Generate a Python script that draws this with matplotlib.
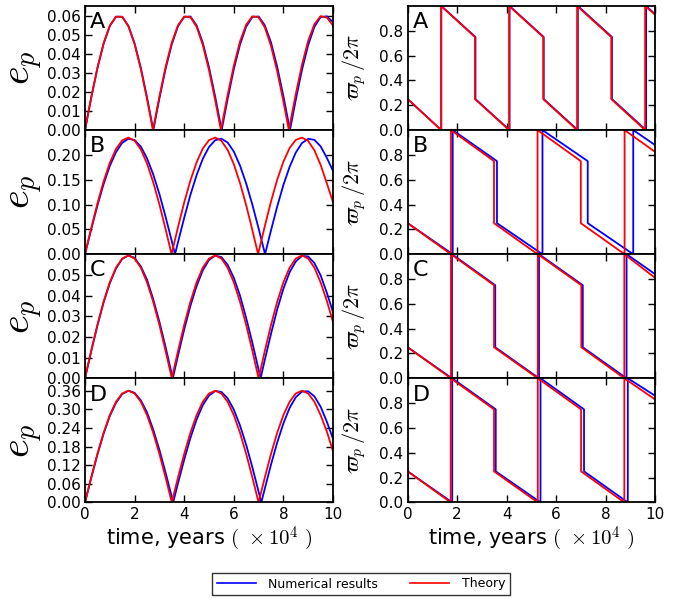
import numpy as np
import matplotlib
matplotlib.use("Agg")
import matplotlib.pyplot as plt
from matplotlib.lines import Line2D

plt.rcParams['mathtext.fontset'] = 'cm'
plt.rcParams['font.family'] = ['DejaVu Sans']

# sample times (x 10^4 years) for the eccentricity curves
t_grid = [i * 0.25 for i in range(41)]

# ---- eccentricity e_p, values read at t_grid; zeros listed separately ----
ep_A_num = [0, 0.0169, 0.0324, 0.0452, 0.0545, 0.0594, 0.0594, 0.0546, 0.0454, 0.0327, 0.0172,
            0.0003, 0.0166, 0.0321, 0.0450, 0.0544, 0.0593, 0.0595, 0.0548, 0.0457, 0.0329, 0.0175,
            0.0007, 0.0162, 0.0319, 0.0448, 0.0542, 0.0593, 0.0595, 0.0549, 0.0459, 0.0331, 0.0178,
            0.0010, 0.0159, 0.0316, 0.0446, 0.0541, 0.0592, 0.0596, 0.0565]
ep_A_num_zeros = [2.755, 5.51, 8.265]
ep_A_th = [0, 0.0170, 0.0325, 0.0455, 0.0547, 0.0594, 0.0593, 0.0544, 0.0450, 0.0320, 0.0163,
           0.0007, 0.0176, 0.0331, 0.0459, 0.0549, 0.0595, 0.0592, 0.0541, 0.0446, 0.0314, 0.0156,
           0.0014, 0.0183, 0.0337, 0.0464, 0.0552, 0.0596, 0.0591, 0.0538, 0.0441, 0.0308, 0.0150,
           0.0021, 0.0189, 0.0343, 0.0468, 0.0555, 0.0597, 0.0590, 0.0548]
ep_A_th_zeros = [2.74, 5.48, 8.22]

ep_B_num = [0, 0.0500, 0.0978, 0.1411, 0.1778, 0.2056, 0.2243, 0.2326, 0.2300, 0.2168, 0.1933, 0.1608, 0.1212, 0.0753,
            0.0261, 0.0242, 0.0733, 0.1195, 0.1593, 0.1922, 0.2159, 0.2297, 0.2327, 0.2251, 0.2068, 0.1786, 0.1423, 0.0995,
            0.0520, 0.0020, 0.0480, 0.0960, 0.1395, 0.1758, 0.2048, 0.2239, 0.2325, 0.2303, 0.2173, 0.1943, 0.1680]
ep_B_num_zeros = [3.63, 7.26]
ep_B_th = [0, 0.0524, 0.1021, 0.1466, 0.1839, 0.2120, 0.2293, 0.2350, 0.2287, 0.2111, 0.1827, 0.1451, 0.1003, 0.0504,
           0.0021, 0.0545, 0.1042, 0.1484, 0.1851, 0.2129, 0.2297, 0.2350, 0.2284, 0.2102, 0.1814, 0.1434, 0.0985, 0.0483,
           0.0042, 0.0565, 0.1061, 0.1501, 0.1863, 0.2138, 0.2302, 0.2349, 0.2280, 0.2093, 0.1800, 0.1430, 0.1050]
ep_B_th_zeros = [3.49, 6.98]

ep_C_num = [0, 0.0131, 0.0255, 0.0367, 0.0460, 0.0531, 0.0577, 0.0594, 0.0582, 0.0541, 0.0477, 0.0383, 0.0273, 0.0151,
            0.0021, 0.0110, 0.0236, 0.0350, 0.0446, 0.0522, 0.0572, 0.0593, 0.0586, 0.0549, 0.0486, 0.0400, 0.0291, 0.0171,
            0.0042, 0.0089, 0.0215, 0.0333, 0.0433, 0.0513, 0.0565, 0.0592, 0.0589, 0.0557, 0.0498, 0.0414, 0.0320]
ep_C_num_zeros = [3.54, 7.08]
ep_C_th = [0, 0.0132, 0.0258, 0.0370, 0.0464, 0.0535, 0.0579, 0.0594, 0.0579, 0.0535, 0.0464, 0.0370, 0.0258, 0.0132,
           0, 0.0132, 0.0258, 0.0370, 0.0464, 0.0535, 0.0579, 0.0594, 0.0579, 0.0535, 0.0464, 0.0370, 0.0258, 0.0132,
           0, 0.0132, 0.0258, 0.0370, 0.0464, 0.0535, 0.0579, 0.0594, 0.0579, 0.0535, 0.0464, 0.0375, 0.0272]
ep_C_th_zeros = []

ep_D_num = [0, 0.0789, 0.1542, 0.2215, 0.2784, 0.3211, 0.3493, 0.3599, 0.3530, 0.3291, 0.2904, 0.2347, 0.1694, 0.0959,
            0.0175, 0.0616, 0.1377, 0.2075, 0.2671, 0.3137, 0.3444, 0.3591, 0.3561, 0.3357, 0.2992, 0.2480, 0.1854, 0.1127,
            0.0348, 0.0444, 0.1217, 0.1929, 0.2548, 0.3044, 0.3389, 0.3573, 0.3582, 0.3417, 0.3086, 0.2606, 0.2050]
ep_D_num_zeros = [3.555, 7.11]
ep_D_th = [0, 0.0801, 0.1562, 0.2245, 0.2814, 0.3244, 0.3510, 0.3600, 0.3510, 0.3244, 0.2814, 0.2245, 0.1562, 0.0801,
           0, 0.0801, 0.1562, 0.2245, 0.2814, 0.3244, 0.3510, 0.3600, 0.3510, 0.3244, 0.2814, 0.2245, 0.1562, 0.0801,
           0, 0.0801, 0.1562, 0.2245, 0.2814, 0.3244, 0.3510, 0.3600, 0.3510, 0.3244, 0.2814, 0.2290, 0.1650]
ep_D_th_zeros = []

# ---- longitude of pericentre varpi_p / 2pi, breakpoints ----
w_A_num_t = [0, 0, 1.36, 1.36, 2.74, 2.74, 4.12, 4.12, 5.50, 5.50, 6.88, 6.88, 8.26, 8.26, 9.64, 9.64, 10]
w_A_num_v = [0, 0.25, 0, 1, 0.75, 0.25, 0, 1, 0.75, 0.25, 0, 1, 0.75, 0.25, 0, 1, 0.935]
w_A_th_t = [0, 1.35, 1.35, 2.72, 2.72, 4.10, 4.10, 5.48, 5.48, 6.85, 6.85, 8.23, 8.23, 9.60, 9.60, 10]
w_A_th_v = [0.25, 0, 1, 0.75, 0.25, 0, 1, 0.75, 0.25, 0, 1, 0.75, 0.25, 0, 1, 0.93]

w_B_num_t = [0, 0, 1.82, 1.82, 3.61, 3.61, 5.45, 5.45, 7.28, 7.28, 9.12, 9.12, 10]
w_B_num_v = [0, 0.25, 0, 1, 0.75, 0.25, 0, 1, 0.75, 0.25, 0, 1, 0.88]
w_B_th_t = [0, 1.75, 1.75, 3.49, 3.49, 5.25, 5.25, 7.00, 7.00, 8.77, 8.77, 10]
w_B_th_v = [0.25, 0, 1, 0.75, 0.25, 0, 1, 0.75, 0.25, 0, 1, 0.825]

w_C_num_t = [0, 0, 1.79, 1.79, 3.54, 3.54, 5.31, 5.31, 7.08, 7.08, 8.85, 8.85, 10]
w_C_num_v = [0, 0.25, 0, 1, 0.75, 0.25, 0, 1, 0.75, 0.25, 0, 1, 0.84]
w_C_th_t = [0, 1.75, 1.75, 3.49, 3.49, 5.26, 5.26, 7.02, 7.02, 8.76, 8.76, 10]
w_C_th_v = [0.25, 0, 1, 0.75, 0.25, 0, 1, 0.75, 0.25, 0, 1, 0.81]

w_D_num_t = [0, 0, 1.80, 1.80, 3.56, 3.56, 5.37, 5.37, 7.13, 7.13, 8.90, 8.90, 10]
w_D_num_v = [0, 0.25, 0, 1, 0.75, 0.25, 0, 1, 0.75, 0.25, 0, 1, 0.86]
w_D_th_t = [0, 1.74, 1.74, 3.49, 3.49, 5.26, 5.26, 7.01, 7.01, 8.76, 8.76, 10]
w_D_th_v = [0.25, 0, 1, 0.75, 0.25, 0, 1, 0.75, 0.25, 0, 1, 0.83]

panel_labels = ['A', 'B', 'C', 'D']
ep_yticks = [[0.00, 0.01, 0.02, 0.03, 0.04, 0.05, 0.06],
             [0.00, 0.05, 0.10, 0.15, 0.20],
             [0.00, 0.01, 0.02, 0.03, 0.04, 0.05],
             [0.00, 0.06, 0.12, 0.18, 0.24, 0.30, 0.36]]
ep_ylims = [0.065, 0.25, 0.06, 0.40]
w_yticks = [0.0, 0.2, 0.4, 0.6, 0.8]
x_ticks = [0, 2, 4, 6, 8, 10]

ep_num = [(ep_A_num, ep_A_num_zeros), (ep_B_num, ep_B_num_zeros), (ep_C_num, ep_C_num_zeros), (ep_D_num, ep_D_num_zeros)]
ep_th = [(ep_A_th, ep_A_th_zeros), (ep_B_th, ep_B_th_zeros), (ep_C_th, ep_C_th_zeros), (ep_D_th, ep_D_th_zeros)]
w_num = [(w_A_num_t, w_A_num_v), (w_B_num_t, w_B_num_v), (w_C_num_t, w_C_num_v), (w_D_num_t, w_D_num_v)]
w_th = [(w_A_th_t, w_A_th_v), (w_B_th_t, w_B_th_v), (w_C_th_t, w_C_th_v), (w_D_th_t, w_D_th_v)]


def series(vals, zeros):
    t = np.concatenate([np.array(t_grid), np.array(zeros, dtype=float)])
    e = np.concatenate([np.array(vals), np.zeros(len(zeros))])
    order = np.argsort(t, kind='stable')
    return t[order], e[order]


W, H = 690, 599
fig = plt.figure(figsize=(W / 100, H / 100), dpi=100)

row_top = [6, 130.1, 254.2, 378.3]
row_h = 124.1
lx0, lx1 = 85, 333
rx0, rx1 = 407.7, 655

BLUE = '#0000ff'
RED = '#ff0000'
LW = 1.3


def style(ax):
    for s in ax.spines.values():
        s.set_linewidth(1.3)
    ax.tick_params(direction='in', top=True, right=True, length=5, width=1,
                   labelsize=11, pad=3)
    ax.set_xlim(0, 10)
    ax.set_xticks(x_ticks)


for i in range(4):
    bottom = 1 - (row_top[i] + row_h) / H
    hgt = row_h / H
    axl = fig.add_axes([lx0 / W, bottom, (lx1 - lx0) / W, hgt])
    axr = fig.add_axes([rx0 / W, bottom, (rx1 - rx0) / W, hgt])
    style(axl)
    style(axr)

    tn, en = series(*ep_num[i])
    tt, et = series(*ep_th[i])
    axl.plot(tn, en, color=BLUE, lw=LW)
    axl.plot(tt, et, color=RED, lw=LW)
    axl.set_ylim(0, ep_ylims[i])
    axl.set_yticks(ep_yticks[i])
    axl.set_yticklabels(['%.2f' % v for v in ep_yticks[i]])
    axl.set_ylabel(r'$e_p$', fontsize=29)
    axl.yaxis.set_label_coords(-0.16, 0.5)
    axl.text(0.02, 0.95, panel_labels[i], transform=axl.transAxes, fontsize=16,
             va='top', ha='left')

    axr.plot(w_num[i][0], w_num[i][1], color=BLUE, lw=LW)
    axr.plot(w_th[i][0], w_th[i][1], color=RED, lw=LW)
    axr.set_ylim(0, 1)
    axr.set_yticks(w_yticks)
    axr.set_yticklabels(['%.1f' % v for v in w_yticks])
    axr.set_ylabel(r'$\varpi_p\,/2\pi$', fontsize=16)
    axr.yaxis.set_label_coords(-0.16, 0.5)
    axr.text(0.02, 0.95, panel_labels[i], transform=axr.transAxes, fontsize=16,
             va='top', ha='left')

    if i < 3:
        axl.set_xticklabels([])
        axr.set_xticklabels([])
    else:
        axl.set_xticklabels([str(v) for v in x_ticks])
        axr.set_xticklabels([str(v) for v in x_ticks])
        xl = r'time, years $(\ \times10^{4}\ )$'
        axl.set_xlabel(xl, fontsize=15, labelpad=2)
        axr.set_xlabel(xl, fontsize=15, labelpad=2)

handles = [Line2D([], [], color=BLUE, lw=1.2), Line2D([], [], color=RED, lw=1.2)]
leg = fig.legend(handles, ['Numerical results', 'Theory'], loc='center',
                 bbox_to_anchor=(361 / W, 1 - 584 / H), ncol=2, fontsize=9,
                 frameon=True, fancybox=False, edgecolor='black',
                 handlelength=3.1, handletextpad=1.0, columnspacing=2.6,
                 borderpad=0.35)
leg.get_frame().set_linewidth(1.0)

fig.savefig('out.png', dpi=100, facecolor='white')
